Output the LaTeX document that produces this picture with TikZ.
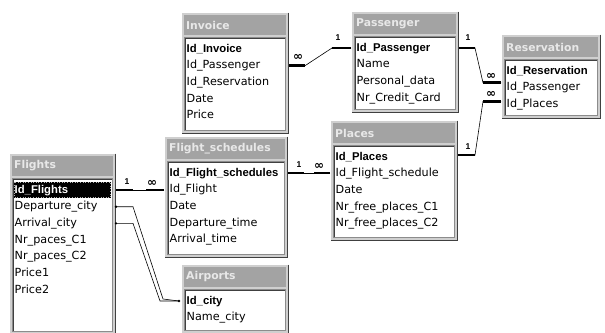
\documentclass[tikz,border=0pt]{standalone}
\usepackage{fontspec}
\setmainfont{DejaVu Sans}
\newfontfamily\keyfont{Liberation Sans}
\newfontfamily\symfont{DejaVu Sans}
\usetikzlibrary{calc}
\definecolor{framegray}{HTML}{CFCFCF}
\definecolor{titlegray}{HTML}{A3A3A3}
\definecolor{titletxt}{HTML}{E8E8E8}
\definecolor{shadowc}{HTML}{404040}
\definecolor{midgray}{HTML}{8C8C8C}
\tikzset{
 tframe/.style={rectangle, fill=framegray, inner sep=0pt, outer sep=0pt, anchor=north west},
 ttitle/.style={anchor=west, inner sep=0pt, text=titletxt, font=\fontsize{10.8}{12}\selectfont\bfseries},
 field/.style={anchor=west, inner sep=0pt, text height=8.5pt, text depth=2.5pt, font=\fontsize{11.2}{12}\selectfont},
 keyfield/.style={field, font=\keyfont\fontsize{11.3}{12}\selectfont\bfseries},
 rel/.style={line width=0.6pt, black},
 stub/.style={line width=2.6pt, black},
 card/.style={inner sep=0pt, font=\keyfont\fontsize{8.5}{9}\selectfont\bfseries},
 many/.style={inner sep=0pt, font=\symfont\fontsize{12}{12}\selectfont\bfseries},
}
\newcommand\dbtab[6]{%
 \node[tframe, minimum width={(#4-#2)*1pt}, minimum height={(#5-#3)*1pt}] (#1) at (#2,#3) {};
 \draw[white, line width=1pt] ($(#1.south west)+(0.5,-0.5)$) |- ($(#1.north east)+(-0.5,0.5)$);
 \draw[shadowc, line width=1.2pt] ($(#1.north east)+(-0.6,0.6)$) |- ($(#1.south west)+(0.6,-0.6)$);
 \fill[titlegray] ($(#1.north west)+(3,3)$) rectangle ($(#1.north east)+(-3,23)$);
 \node[ttitle] (#1-title) at ($(#1.north west)+(5,13)$) {#6};
 \filldraw[fill=white, draw=midgray, line width=1pt] ($(#1.north west)+(3.5,25.5)$) rectangle ($(#1.south east)+(-3.5,-3.5)$);
 \draw[shadowc, line width=1pt] ($(#1.south west)+(4.5,-4)$) |- ($(#1.north east)+(-4,26.5)$);
}
\newcommand\dbrow[5]{%
 \node[#4] (#1-#2) at ($(#1.north west)+(5.5,{37+16.7*#3})$) {#5};
}
\begin{document}
\begin{tikzpicture}[x=1pt, y=-1pt]
\useasboundingbox (0,0) rectangle (605,332);
\clip (0,0) rectangle (605,332);
\fill[white] (0,0) rectangle (605,332);

\dbtab{flights}{9}{153}{116}{335}{Flights}
\dbtab{invoice}{181}{12}{289}{134}{Invoice}
\dbtab{passenger}{351}{11}{459}{113}{Passenger}
\dbtab{reservation}{501}{34}{601}{119}{Reservation}
\dbtab{places}{330}{120}{458}{241}{Places}
\dbtab{fsched}{164}{136}{288}{258}{Flight\_schedules}
\dbtab{airports}{181}{264}{289}{334}{Airports}

% highlighted row in Flights
\fill[black] ($(flights.north west)+(4.5,28.5)$) rectangle ($(flights.north east)+(-5,45)$);
\draw[white!70!black, dotted, line width=0.6pt] ($(flights.north west)+(5.2,29.2)$) rectangle ($(flights.north east)+(-5.7,44.3)$);

\dbrow{flights}{r0}{0}{keyfield, text=white}{Id\_Flights}
\dbrow{flights}{r1}{1}{field}{Departure\_city}
\dbrow{flights}{r2}{2}{field}{Arrival\_city}
\dbrow{flights}{r3}{3}{field}{Nr\_paces\_C1}
\dbrow{flights}{r4}{4}{field}{Nr\_paces\_C2}
\dbrow{flights}{r5}{5}{field}{Price1}
\dbrow{flights}{r6}{6}{field}{Price2}

\dbrow{invoice}{r0}{0}{keyfield}{Id\_Invoice}
\dbrow{invoice}{r1}{1}{field}{Id\_Passenger}
\dbrow{invoice}{r2}{2}{field}{Id\_Reservation}
\dbrow{invoice}{r3}{3}{field}{Date}
\dbrow{invoice}{r4}{4}{field}{Price}

\dbrow{passenger}{r0}{0}{keyfield}{Id\_Passenger}
\dbrow{passenger}{r1}{1}{field}{Name}
\dbrow{passenger}{r2}{2}{field}{Personal\_data}
\dbrow{passenger}{r3}{3}{field}{Nr\_Credit\_Card}

\dbrow{reservation}{r0}{0}{keyfield}{Id\_Reservation}
\dbrow{reservation}{r1}{1}{field}{Id\_Passenger}
\dbrow{reservation}{r2}{2}{field}{Id\_Places}

\dbrow{places}{r0}{0}{keyfield}{Id\_Places}
\dbrow{places}{r1}{1}{field}{Id\_Flight\_schedule}
\dbrow{places}{r2}{2}{field}{Date}
\dbrow{places}{r3}{3}{field}{Nr\_free\_places\_C1}
\dbrow{places}{r4}{4}{field}{Nr\_free\_places\_C2}

\dbrow{fsched}{r0}{0}{keyfield}{Id\_Flight\_schedules}
\dbrow{fsched}{r1}{1}{field}{Id\_Flight}
\dbrow{fsched}{r2}{2}{field}{Date}
\dbrow{fsched}{r3}{3}{field}{Departure\_time}
\dbrow{fsched}{r4}{4}{field}{Arrival\_time}

\dbrow{airports}{r0}{0}{keyfield}{Id\_city}
\dbrow{airports}{r1}{1}{field}{Name\_city}

% A: Flights.Id_Flights 1 -- oo Flight_schedules.Id_Flight
\coordinate (a1) at (flights.east |- flights-r0);
\coordinate (a2) at (fsched.west |- flights-r0);
\draw[rel] (a1) -- (a2);
\draw[stub] (a1) -- ++(17,0);
\draw[stub] (a2) -- ++(-18,0);
\node[card] (a-one) at ($(a1)+(11,-8)$) {1};
\node[many] (a-many) at ($(a2)+(-12,-7)$) {∞};

% B, C: Flights -> Airports
\coordinate (b1) at (flights.east |- flights-r1);
\coordinate (c1) at (flights.east |- flights-r2);
\coordinate (b4) at ($(airports.west |- airports-r0)+(-2,0)$);
\draw[rel] (b1) -- ++(17,0) -- ($(b4)+(-16,-2)$) -- (b4);
\draw[rel] (c1) -- ++(17,0) -- ($(b4)+(-19,0)$) -- (b4);
\fill (b1) circle (1.3);
\fill (c1) circle (1.3);
\fill (b4) circle (1.3);

% D: Flight_schedules -> Places
\coordinate (d1) at (fsched.east |- fsched-r0);
\coordinate (d2) at (places.west |- fsched-r0);
\draw[rel] (d1) -- (d2);
\draw[stub] (d1) -- ++(16,0);
\draw[stub] (d2) -- ++(-16,0);
\node[card] (d-one) at ($(d1)+(11,-8)$) {1};
\node[many] (d-many) at ($(d2)+(-11,-7)$) {∞};

% E: Invoice.Id_Passenger oo -- 1 Passenger.Id_Passenger
\coordinate (e1) at (invoice.east |- invoice-r1);
\coordinate (e2) at (passenger.west |- passenger-r0);
\draw[rel] (e1) -- ++(16,0) -- ($(e2)+(-19,0)$) -- (e2);
\draw[stub] (e1) -- ++(16,0);
\draw[stub] (e2) -- ++(-19,0);
\node[many] (e-many) at ($(e1)+(9,-8)$) {∞};
\node[card] (e-one) at ($(e2)+(-13,-10)$) {1};

% F: Passenger 1 -- oo Reservation.Id_Passenger
\coordinate (f1) at (passenger.east |- passenger-r0);
\coordinate (f2) at ($(reservation.west |- reservation-r1)+(0,-5)$);
\draw[rel] (f1) -- ++(16,0) -- ($(f2)+(-18,0)$) -- (f2);
\draw[stub] (f1) -- ++(16,0);
\draw[stub] (f2) -- ++(-18,0);
\node[card] (f-one) at ($(f1)+(9,-10)$) {1};
\node[many] (f-many) at ($(f2)+(-10,-6)$) {∞};

% G: Places.Id_Places 1 -- oo Reservation.Id_Places
\coordinate (g1) at ($(places.east |- places-r0)+(0,-2)$);
\coordinate (g2) at ($(reservation.west |- reservation-r2)+(0,-3)$);
\draw[rel] (g1) -- ++(17,0) -- ($(g2)+(-18,0)$) -- (g2);
\draw[stub] (g1) -- ++(17,0);
\draw[stub] (g2) -- ++(-18,0);
\node[card] (g-one) at ($(g1)+(10,-8)$) {1};
\node[many] (g-many) at ($(g2)+(-10,-7)$) {∞};
\end{tikzpicture}
\end{document}
